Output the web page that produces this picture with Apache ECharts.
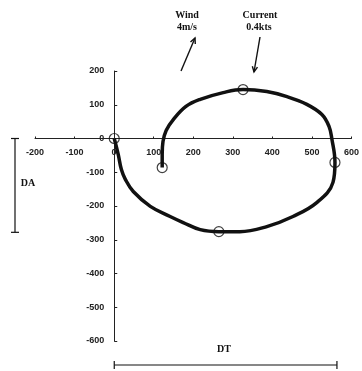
<!DOCTYPE html>
<html>
<head>
<meta charset="utf-8">
<script src="https://cdn.jsdelivr.net/npm/echarts@6/dist/echarts.min.js"></script>
<style>
  html, body { margin: 0; padding: 0; background: #fff; }
  #chart { width: 362px; height: 371px; }
</style>
</head>
<body>
<div id="chart"></div>
<script>
// Turning-circle track: transfer (x, m) and advance (y, m)
const trackX = [0, 10, 18, 28, 48, 91, 141, 174, 217, 264, 317, 385, 451, 511, 552, 557, 549, 542, 524, 486, 436, 385, 325, 275, 217, 181, 149, 131, 123, 121, 121];
const trackY = [0, -47, -92, -121, -157, -201, -231, -249, -270, -276, -276, -261, -231, -190, -130, -71, 0, 36, 71, 101, 124, 139, 145, 136, 116, 95, 56, 24, -9, -47, -86];

// Heading-change points marked with open circles
const markX = [0, 264, 557, 325, 121];
const markY = [0, -276, -71, 145, -86];

// Axis ranges and tick step
const xRange = [-200, 600];
const yRange = [-600, 200];
const tickStep = 100;

// Advance (DA) and tactical diameter (DT) extents
const daValue = -278;
const dtValue = 562;

const W = 362, H = 371;
const plot = { left: 35, right: 10, top: 71, bottom: 30 };
const plotW = W - plot.left - plot.right;
const plotH = H - plot.top - plot.bottom;
// pixel offsets of the zero lines, so the axes cross at the origin
const zeroLeft = plot.left + (0 - xRange[0]) / (xRange[1] - xRange[0]) * plotW;
const zeroTop = plot.top + (yRange[1] - 0) / (yRange[1] - yRange[0]) * plotH;

const ink = '#111';
const axisInk = '#222';
const tickFont = { fontFamily: 'Liberation Sans, Arial, sans-serif', fontSize: 9, fontWeight: 'bold', color: axisInk };
const noteFont = 'bold 10px "Liberation Serif", "Times New Roman", serif';

const hidden = { show: false };

const chart = echarts.init(document.getElementById('chart'), null, { renderer: 'canvas' });

chart.setOption({
  animation: false,
  backgroundColor: '#fff',
  grid: [
    // plotting area
    { left: plot.left, right: plot.right, top: plot.top, bottom: plot.bottom },
    // strip whose bottom edge is y = 0 (carries the x axis)
    { left: plot.left, right: plot.right, top: plot.top, height: zeroTop - plot.top },
    // strip whose left edge is x = 0 (carries the y axis)
    { left: zeroLeft, right: plot.right, top: plot.top, bottom: plot.bottom }
  ],
  xAxis: [
    { gridIndex: 0, type: 'value', min: xRange[0], max: xRange[1], show: false },
    {
      gridIndex: 1, type: 'value', position: 'bottom',
      min: xRange[0], max: xRange[1], interval: tickStep,
      splitLine: hidden,
      axisLine: { onZero: false, lineStyle: { color: axisInk, width: 1 } },
      axisTick: { inside: true, length: 2, lineStyle: { color: axisInk } },
      axisLabel: Object.assign({ margin: 10 }, tickFont)
    },
    { gridIndex: 2, type: 'value', min: 0, max: xRange[1], show: false }
  ],
  yAxis: [
    { gridIndex: 0, type: 'value', min: yRange[0], max: yRange[1], show: false },
    { gridIndex: 1, type: 'value', min: 0, max: yRange[1], show: false },
    {
      gridIndex: 2, type: 'value', position: 'left',
      min: yRange[0], max: yRange[1], interval: tickStep,
      splitLine: hidden,
      axisLine: { onZero: false, lineStyle: { color: axisInk, width: 1 } },
      axisTick: { inside: true, length: 3, lineStyle: { color: axisInk } },
      axisLabel: Object.assign({ margin: 10 }, tickFont)
    }
  ],
  series: [
    {
      type: 'line',
      xAxisIndex: 0, yAxisIndex: 0,
      data: trackX.map((x, i) => [x, trackY[i]]),
      smooth: 0.4,
      showSymbol: false,
      lineStyle: { color: ink, width: 3.5 },
      z: 2
    },
    {
      type: 'scatter',
      xAxisIndex: 0, yAxisIndex: 0,
      data: markX.map((x, i) => [x, markY[i]]),
      symbol: 'circle',
      symbolSize: 10,
      itemStyle: { color: 'rgba(255,255,255,0)', borderColor: ink, borderWidth: 1.2 },
      z: 3
    }
  ]
});

// Dimension bars and annotations placed from data values
const origin = chart.convertToPixel({ gridIndex: 0 }, [0, 0]);
const daEnd = chart.convertToPixel({ gridIndex: 0 }, [0, daValue]);
const dtEnd = chart.convertToPixel({ gridIndex: 0 }, [dtValue, 0]);

const daX = 15;
const dtY = 365;

function seg(x1, y1, x2, y2, w) {
  return { type: 'line', shape: { x1, y1, x2, y2 }, style: { stroke: ink, lineWidth: w || 1.2 } };
}
function arrow(x1, y1, x2, y2) {
  // shaft from (x1,y1) to the tip (x2,y2) with an open V head
  const a = Math.atan2(y2 - y1, x2 - x1);
  const h = 6, spread = 0.45;
  return [
    seg(x1, y1, x2, y2, 1.4),
    { type: 'polyline', shape: { points: [
      [x2 - h * Math.cos(a - spread), y2 - h * Math.sin(a - spread)],
      [x2, y2],
      [x2 - h * Math.cos(a + spread), y2 - h * Math.sin(a + spread)]
    ] }, style: { stroke: ink, lineWidth: 1.4, fill: null } }
  ];
}
function label(text, x, y) {
  return { type: 'text', x, y, style: { text, font: noteFont, fill: ink, align: 'center', verticalAlign: 'middle' } };
}

const graphics = [
  // DA bar
  seg(daX, origin[1], daX, daEnd[1]),
  seg(daX - 4, origin[1], daX + 4, origin[1]),
  seg(daX - 4, daEnd[1], daX + 4, daEnd[1]),
  label('DA', 28, 183),
  // DT bar
  seg(origin[0], dtY, dtEnd[0], dtY),
  seg(origin[0], dtY - 4, origin[0], dtY + 4),
  seg(dtEnd[0], dtY - 4, dtEnd[0], dtY + 4),
  label('DT', 224, 349),
  // wind and current notes
  label('Wind', 187, 15),
  label('4m/s', 187, 27),
  label('Current', 260, 15),
  label('0.4kts', 259, 27)
].concat(arrow(181, 71, 195, 38), arrow(260, 37, 254, 72));

chart.setOption({ graphic: graphics });
</script>
</body>
</html>
